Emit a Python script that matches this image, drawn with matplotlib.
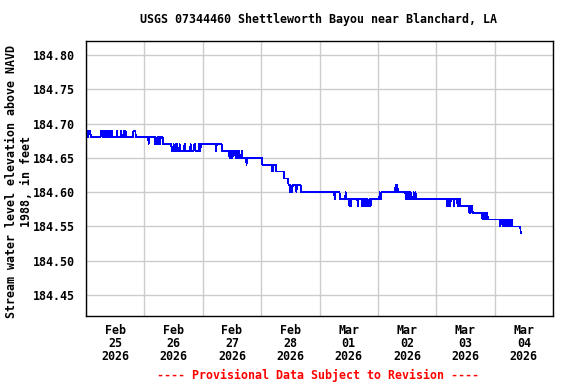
"""Recreate the USGS provisional gage-height plot for Shettleworth Bayou."""

import matplotlib

matplotlib.use("Agg")

import matplotlib.dates as mdates
import matplotlib.pyplot as plt
import numpy as np
import pandas as pd
from matplotlib.ticker import FixedLocator, FormatStrFormatter

TITLE = "USGS 07344460 Shettleworth Bayou near Blanchard, LA"
Y_LABEL = "Stream water level elevation above NAVD\n1988, in feet"
FOOTER = "---- Provisional Data Subject to Revision ----"

START = "2026-02-25 00:00"
END_AXIS = "2026-03-05 00:00"
Y_TICKS = [184.45, 184.50, 184.55, 184.60, 184.65, 184.70, 184.75, 184.80]
Y_LIMITS = (184.4194, 184.8204)

# hours after START where the 15-minute reading changes, and the new reading
CHANGE_HOURS = [
    0.0, 0.75, 1.25, 2.0, 6.25, 6.75, 7.0, 7.5, 7.75, 8.25, 8.5, 9.0, 9.25,
    9.75, 10.0, 10.5, 10.75, 11.0, 12.75, 13.0, 14.5, 14.75, 15.5, 15.75,
    16.25, 16.5, 19.5, 20.5, 25.75, 26.0, 28.5, 28.75, 29.0, 29.5, 29.75,
    30.0, 30.5, 30.75, 31.75, 35.25, 36.0, 36.25, 36.75, 37.0, 37.5, 37.75,
    38.5, 38.75, 40.5, 41.0, 43.0, 43.25, 44.5, 45.0, 46.5, 46.75, 47.25,
    53.5, 53.75, 56.0, 59.0, 59.5, 60.0, 60.5, 61.5, 62.0, 62.25, 62.75,
    63.25, 64.0, 64.25, 66.0, 66.25, 72.5, 76.5, 77.0, 78.25, 81.5, 83.25,
    84.0, 84.25, 84.5, 85.0, 86.5, 86.75, 88.5, 102.25, 102.5, 104.5,
    106.75, 107.0, 108.25, 108.5, 108.75, 109.25, 111.75, 112.0, 113.5,
    113.75, 114.25, 114.5, 115.0, 115.5, 116.0, 116.5, 116.75, 117.25,
    120.75, 121.0, 121.5, 127.25, 127.5, 127.75, 128.25, 131.5, 132.0,
    132.25, 132.75, 133.0, 133.5, 133.75, 134.75, 135.0, 135.5, 135.75,
    148.5, 148.75, 149.0, 149.5, 149.75, 150.0, 151.25, 151.5, 152.75,
    153.0, 153.25, 153.75, 154.0, 157.5, 157.75, 158.25, 158.5, 159.0,
    163.0, 163.25, 163.75, 164.0, 164.5, 164.75, 165.25, 170.25, 170.5,
    171.25, 171.5, 172.0, 172.25, 172.75, 173.0, 173.5, 173.75, 174.25,
    174.5, 175.25, 178.75,
]
CHANGE_LEVELS = [
    184.69, 184.68, 184.69, 184.68, 184.69, 184.68, 184.69, 184.68, 184.69,
    184.68, 184.69, 184.68, 184.69, 184.68, 184.69, 184.68, 184.69, 184.68,
    184.69, 184.68, 184.69, 184.68, 184.69, 184.68, 184.69, 184.68, 184.69,
    184.68, 184.67, 184.68, 184.67, 184.68, 184.67, 184.68, 184.67, 184.68,
    184.67, 184.68, 184.67, 184.66, 184.67, 184.66, 184.67, 184.66, 184.67,
    184.66, 184.67, 184.66, 184.67, 184.66, 184.67, 184.66, 184.67, 184.66,
    184.67, 184.66, 184.67, 184.66, 184.67, 184.66, 184.65, 184.66, 184.65,
    184.66, 184.65, 184.66, 184.65, 184.66, 184.65, 184.66, 184.65, 184.64,
    184.65, 184.64, 184.63, 184.64, 184.63, 184.62, 184.61, 184.60, 184.61,
    184.60, 184.61, 184.60, 184.61, 184.60, 184.59, 184.60, 184.59, 184.60,
    184.59, 184.58, 184.59, 184.58, 184.59, 184.58, 184.59, 184.58, 184.59,
    184.58, 184.59, 184.58, 184.59, 184.58, 184.59, 184.58, 184.59, 184.60,
    184.59, 184.60, 184.61, 184.60, 184.61, 184.60, 184.59, 184.60, 184.59,
    184.60, 184.59, 184.60, 184.59, 184.60, 184.59, 184.60, 184.59, 184.58,
    184.59, 184.58, 184.59, 184.58, 184.59, 184.58, 184.59, 184.58, 184.59,
    184.58, 184.59, 184.58, 184.57, 184.58, 184.57, 184.58, 184.57, 184.56,
    184.57, 184.56, 184.57, 184.56, 184.57, 184.56, 184.55, 184.56, 184.55,
    184.56, 184.55, 184.56, 184.55, 184.56, 184.55, 184.56, 184.55, 184.56,
    184.55, 184.54,
]

FONT = "DejaVu Sans Mono"
FONT_SIZE = 8.4
LINE_COLOR = "#0000FF"
GRID_COLOR = "#CCCCCC"


def build_series() -> pd.Series:
    """Expand the change points to a regular 15-minute series."""
    start = pd.Timestamp(START)
    n_points = int(CHANGE_HOURS[-1] * 4) + 1
    index = pd.date_range(start, periods=n_points, freq="15min")
    series = pd.Series(np.nan, index=index)
    stamps = start + pd.to_timedelta(CHANGE_HOURS, unit="h")
    series.loc[stamps] = CHANGE_LEVELS
    return series.ffill()


def main() -> None:
    plt.rcParams["font.family"] = FONT
    plt.rcParams["font.weight"] = "bold"
    plt.rcParams["font.size"] = FONT_SIZE

    series = build_series()

    fig = plt.figure(figsize=(5.76, 3.84), dpi=100)
    ax = fig.add_axes([86 / 576, 1 - 316 / 384, 467 / 576, 275 / 384])

    ax.plot(series.index, series.values, color=LINE_COLOR, linewidth=0.5,
            antialiased=False)

    ax.set_xlim(pd.Timestamp(START), pd.Timestamp(END_AXIS))
    ax.set_ylim(*Y_LIMITS)

    ax.xaxis.set_major_locator(mdates.HourLocator(byhour=12))
    ax.xaxis.set_major_formatter(mdates.DateFormatter("%b\n%d\n%Y"))
    ax.xaxis.set_minor_locator(mdates.DayLocator())
    ax.yaxis.set_major_locator(FixedLocator(Y_TICKS))
    ax.yaxis.set_major_formatter(FormatStrFormatter("%.2f"))

    ax.grid(which="minor", axis="x", color=GRID_COLOR, linewidth=1.0)
    ax.grid(which="major", axis="y", color=GRID_COLOR, linewidth=1.0)
    ax.set_axisbelow(True)
    ax.tick_params(which="both", length=0)
    ax.tick_params(axis="x", pad=5.5)
    ax.tick_params(axis="y", pad=8)
    for label in ax.get_xticklabels():
        label.set_linespacing(1.02)

    for spine in ax.spines.values():
        spine.set_linewidth(1.0)
        spine.set_color("black")

    fig.text(319 / 576, 1 - 19 / 384, TITLE, ha="center", va="center")
    fig.text(
        19 / 576, 1 - 182 / 384, Y_LABEL, ha="center", va="center",
        rotation=90, multialignment="center", linespacing=1.1,
    )
    fig.text(318 / 576, 1 - 375 / 384, FOOTER, ha="center", va="center",
             color="#FF0000")

    fig.savefig("out.png", dpi=100)
    plt.close(fig)


if __name__ == "__main__":
    main()
